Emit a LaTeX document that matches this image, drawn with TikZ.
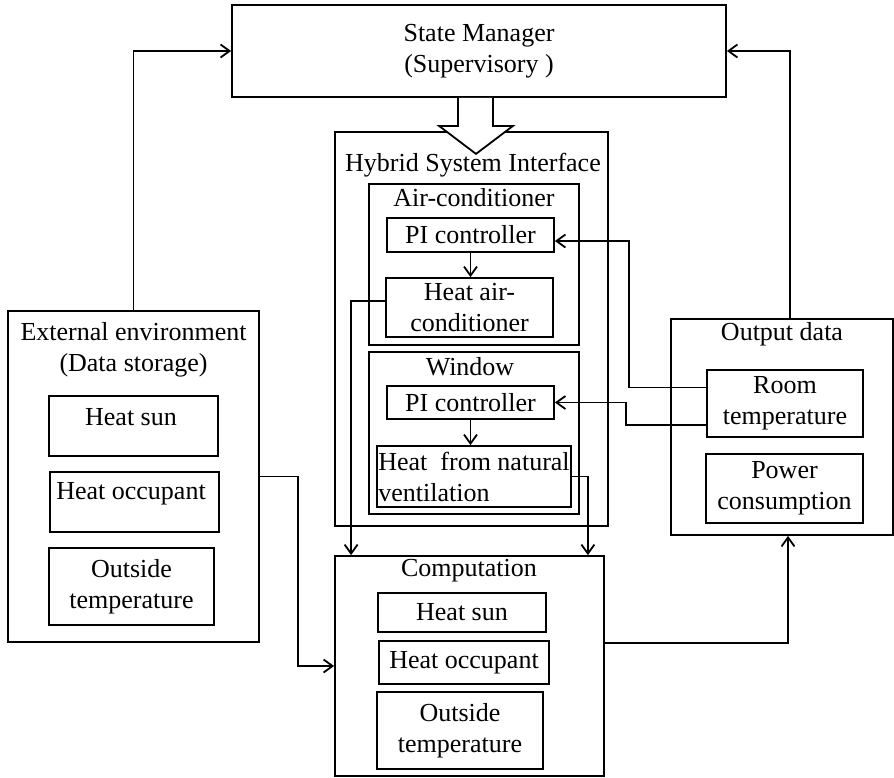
\documentclass[tikz,border=0pt]{standalone}
\usepackage{fontspec}
\setmainfont{Liberation Serif}
\usepackage{tikz}
\usetikzlibrary{arrows.meta, positioning}
\tikzset{blk/.style={draw, rectangle, inner sep=0pt, align=center},
  ttl/.style={inner sep=0pt, align=center}}

\begin{document}
\begin{tikzpicture}[x=1pt, y=-1pt, >={Straight Barb[length=9pt,width=13pt]}, line width=1.8pt, font=\fontsize{26}{31}\selectfont]
\useasboundingbox (0,0) rectangle (894,777);
\node[blk, minimum width=494, minimum height=92] (sm) at (479,51) {State Manager\\(Supervisory )};
\node[blk, minimum width=273, minimum height=394] (hsi) at (471.5,329) {};
\node[ttl] (hsit) at (473,165) {Hybrid System Interface};
\node[blk, minimum width=210, minimum height=161] (ac) at (474,264.5) {};
\node[ttl] (act) at (474,198) {Air-conditioner};
\node[blk, minimum width=167, minimum height=34] (pi1) at (470.5,235) {PI controller};
\node[blk, minimum width=167, minimum height=59] (hac) at (469.5,307.5) {Heat air-\\conditioner};
\node[blk, minimum width=210, minimum height=162] (win) at (474,433) {};
\node[ttl] (wint) at (470,367) {Window};
\node[blk, minimum width=167, minimum height=33] (pi2) at (470.5,402.5) {PI controller};
\node[blk, minimum width=194, minimum height=61, align=left] (hnv) at (474,476.5) {Heat~ from natural\\ventilation};
\node[blk, minimum width=251, minimum height=331] (env) at (133.5,476.5) {};
\node[ttl] (envt) at (133.5,350) {External environment\\(Data storage)};
\node[blk, minimum width=169, minimum height=60] (es) at (133.5,426) {};
\node[ttl] (esl) at (131,417) {Heat sun};
\node[blk, minimum width=169, minimum height=60] (eo) at (134.5,502) {};
\node[ttl] (eol) at (131,494) {Heat occupant};
\node[blk, minimum width=165, minimum height=77] (et) at (131.5,586.5) {Outside\\temperature};
\node[blk, minimum width=222, minimum height=216] (out) at (782,427) {};
\node[ttl] (outt) at (782,334) {Output data};
\node[blk, minimum width=156, minimum height=67] (rt) at (785,403.5) {Room\\temperature};
\node[blk, minimum width=157, minimum height=69] (pc) at (784.5,488.5) {Power\\consumption};
\node[blk, minimum width=269, minimum height=220] (comp) at (469.5,666) {};
\node[ttl] (compt) at (469,571) {Computation};
\node[blk, minimum width=168, minimum height=39] (cs) at (462,612.5) {Heat sun};
\node[blk, minimum width=170, minimum height=43] (co) at (464,662.5) {Heat occupant};
\node[blk, minimum width=166, minimum height=77] (ct) at (460,730.5) {Outside\\temperature};
\draw[fill=white] ([xshift=-21pt]sm.south) -- ++(0,28) -- ++(-19,0) -- ++(37,28) -- ++(37,-28) -- ++(-20,0) -- ([xshift=14pt]sm.south);
\draw[->] (env.north) |- (sm.west);
\draw[->] ([xshift=8pt]out.north) |- (sm.east);
\draw[->] ([yshift=16pt]rt.west) -- ++(-77,0) |- ([yshift=-6pt]pi1.east);
\draw[->] ([yshift=-21.5pt]rt.west) -- ++(-80,0) |- (pi2.east);
\draw[->] (pi1.south) -- (pi1.south |- hac.north);
\draw[->] (pi2.south) -- (pi2.south |- hnv.north);
\draw[->] ([yshift=6.5pt]hac.west) -| ([xshift=17pt]comp.north west);
\draw[->] (hnv.east) -| ([xshift=-17pt]comp.north east);
\draw[->] (env.east) -- ++(38,0) |- (comp.west);
\draw[->] ([yshift=23pt]comp.east) -| ([xshift=6pt]out.south);
\end{tikzpicture}
\end{document}
